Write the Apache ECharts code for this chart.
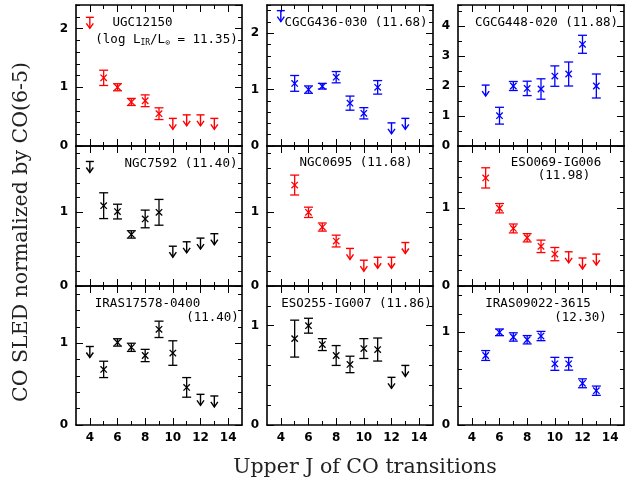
<!DOCTYPE html>
<html><head><meta charset="utf-8">
<script src="https://cdn.jsdelivr.net/npm/echarts@6/dist/echarts.min.js"></script>
<style>html,body{margin:0;padding:0;background:#fff}#c{width:630px;height:484px}</style>
</head><body><div id="c"></div><script>
// Upper J of CO transitions
const J = [4, 5, 6, 7, 8, 9, 10, 11, 12, 13];
const xMajorTicks = [4, 6, 8, 10, 12, 14];
const xMinorTicks = [5, 7, 9, 11, 13];

// Panel titles
const panelNames = [
  ['UGC12150', '(log L{s|IR}/L{s|⊙} = 11.35)'],
  ['CGCG436-030 (11.68)'],
  ['CGCG448-020 (11.88)'],
  ['NGC7592 (11.40)'],
  ['NGC0695 (11.68)'],
  ['ESO069-IG006', '(11.98)'],
  ['IRAS17578-0400', '(11.40)'],
  ['ESO255-IG007 (11.86)'],
  ['IRAS09022-3615', '(12.30)']
];

// values (detections), errors, upper limits — aligned with J
const ugc12150Val = [null, 1.16, 1.00, 0.75, 0.77, 0.55, null, null, null, null];
const ugc12150Err = [null, 0.13, 0.06, 0.06, 0.10, 0.10, null, null, null, null];
const ugc12150Lim = [2.19, null, null, null, null, null, 0.47, 0.53, 0.53, 0.47];

const cgcg436Val = [null, 1.11, 1.00, 1.06, 1.22, 0.76, 0.58, 1.04, null, null];
const cgcg436Err = [null, 0.14, 0.065, 0.05, 0.10, 0.125, 0.10, 0.12, null, null];
const cgcg436Lim = [2.40, null, null, null, null, null, null, null, 0.41, 0.49];

const cgcg448Val = [null, null, 1.01, 2.00, 1.92, 1.90, 2.33, 2.40, 3.39, 2.00];
const cgcg448Err = [null, null, 0.28, 0.15, 0.24, 0.34, 0.34, 0.40, 0.30, 0.40];
const cgcg448Lim = [null, 2.03, null, null, null, null, null, null, null, null];

const ngc7592Val = [null, 1.09, 1.01, 0.70, 0.91, 1.00, null, null, null, null];
const ngc7592Err = [null, 0.175, 0.10, 0.05, 0.12, 0.175, null, null, null, null];
const ngc7592Lim = [1.69, null, null, null, null, null, 0.54, 0.60, 0.65, 0.71];

const ngc0695Val = [null, 1.37, 1.00, 0.80, 0.61, null, null, null, null, null];
const ngc0695Err = [null, 0.135, 0.07, 0.055, 0.08, null, null, null, null, null];
const ngc0695Lim = [null, null, null, null, null, 0.51, 0.35, 0.39, 0.39, 0.59];

const eso069Val = [null, 1.39, 1.00, 0.74, 0.62, 0.51, 0.41, null, null, null];
const eso069Err = [null, 0.13, 0.06, 0.057, 0.053, 0.08, 0.085, null, null, null];
const eso069Lim = [null, null, null, null, null, null, null, 0.44, 0.36, 0.41];

const iras17578Val = [null, 0.68, 1.01, 0.95, 0.85, 1.17, 0.88, 0.46, null, null];
const iras17578Err = [null, 0.10, 0.045, 0.05, 0.075, 0.10, 0.15, 0.12, null, null];
const iras17578Lim = [0.96, null, null, null, null, null, null, null, 0.375, 0.355];

const eso255Val = [null, 0.87, 1.00, 0.81, 0.70, 0.61, 0.77, 0.76, null, null];
const eso255Err = [null, 0.186, 0.075, 0.06, 0.10, 0.083, 0.10, 0.116, null, null];
const eso255Lim = [null, null, null, null, null, null, null, null, 0.48, 0.60];

const iras09022Val = [null, 0.75, 1.00, 0.95, 0.92, 0.96, 0.66, 0.66, 0.45, 0.37];
const iras09022Err = [null, 0.053, 0.036, 0.045, 0.045, 0.05, 0.07, 0.068, 0.048, 0.05];
const iras09022Lim = [null, null, null, null, null, null, null, null, null, null];

// y-axis extents
const yMaxes = [2.4, 2.5, 4.7, 1.9, 1.9, 1.8, 1.7, 1.4, 1.5];
const yMinorSteps = [0.2, 0.2, 0.5, 0.2, 0.2, 0.2, 0.2, 0.2, 0.2];

const RED = '#ff0000', BLUE = '#0000ff', BLACK = '#000000';
const panels = [
  {val: ugc12150Val, err: ugc12150Err, lim: ugc12150Lim, color: RED},
  {val: cgcg436Val, err: cgcg436Err, lim: cgcg436Lim, color: BLUE},
  {val: cgcg448Val, err: cgcg448Err, lim: cgcg448Lim, color: BLUE},
  {val: ngc7592Val, err: ngc7592Err, lim: ngc7592Lim, color: BLACK},
  {val: ngc0695Val, err: ngc0695Err, lim: ngc0695Lim, color: RED},
  {val: eso069Val, err: eso069Err, lim: eso069Lim, color: RED},
  {val: iras17578Val, err: iras17578Err, lim: iras17578Lim, color: BLACK},
  {val: eso255Val, err: eso255Err, lim: eso255Lim, color: BLACK},
  {val: iras09022Val, err: iras09022Err, lim: iras09022Lim, color: BLUE}
];

// layout
const colLeft = [76, 267, 458], colW = 166;
const rowTop = [5, 146, 286], rowH = [141, 140, 139];
// label anchor (center x, center y) per line
const labelPos = [
  [[142.5, 22.7], [166.5, 40]],
  [[356, 22.7]],
  [[546.5, 22.7]],
  [[181, 163.3]],
  [[356, 162.7]],
  [[556, 162.7], [564, 176]],
  [[147.5, 304], [212.5, 317.3]],
  [[356.5, 304]],
  [[538, 303.3], [580.5, 317.3]]
];

function detRender(color) {
  return function (params, api) {
    const x = api.value(0), v = api.value(1), e = api.value(2);
    const c = api.coord([x, v]);
    const t = api.coord([x, v + e]);
    const b = api.coord([x, v - e]);
    const cw = 4.5, m = 3.2;
    const style = {stroke: color, lineWidth: 1.3, fill: null};
    return {type: 'group', children: [
      {type: 'line', shape: {x1: c[0], y1: t[1], x2: c[0], y2: b[1]}, style},
      {type: 'line', shape: {x1: c[0] - cw, y1: t[1], x2: c[0] + cw, y2: t[1]}, style},
      {type: 'line', shape: {x1: c[0] - cw, y1: b[1], x2: c[0] + cw, y2: b[1]}, style},
      {type: 'line', shape: {x1: c[0] - m, y1: c[1] - m, x2: c[0] + m, y2: c[1] + m}, style},
      {type: 'line', shape: {x1: c[0] - m, y1: c[1] + m, x2: c[0] + m, y2: c[1] - m}, style}
    ]};
  };
}
function limRender(color) {
  return function (params, api) {
    const c = api.coord([api.value(0), api.value(1)]);
    const hw = 4, L = 11, ah = 5, aw = 3.5;
    const style = {stroke: color, lineWidth: 1.4, fill: null};
    return {type: 'group', children: [
      {type: 'line', shape: {x1: c[0] - hw, y1: c[1], x2: c[0] + hw, y2: c[1]}, style},
      {type: 'line', shape: {x1: c[0], y1: c[1], x2: c[0], y2: c[1] + L}, style},
      {type: 'polyline', shape: {points: [[c[0] - aw, c[1] + L - ah], [c[0], c[1] + L], [c[0] + aw, c[1] + L - ah]]}, style}
    ]};
  };
}

const grid = [], xAxis = [], yAxis = [], series = [], graphic = [];
const axLine = {color: '#000', width: 1.6};
const tickStyle = {color: '#000', width: 1};
const tickFont = {color: '#000', fontSize: 12, fontWeight: 'bold', fontFamily: 'DejaVu Sans'};

panels.forEach((p, i) => {
  const r = Math.floor(i / 3), c = i % 3;
  grid.push({left: colLeft[c], top: rowTop[r], width: colW, height: rowH[r]});
  const mkX = (pos, major) => ({
    type: 'value', gridIndex: i, position: pos, min: 3, max: 15,
    axisLine: {show: major, onZero: false, lineStyle: axLine},
    axisTick: {show: true, inside: true, length: major ? 7 : 4,
      customValues: major ? xMajorTicks : xMinorTicks, lineStyle: tickStyle},
    axisLabel: (major && pos === 'bottom' && r === 2)
      ? Object.assign({show: true, customValues: xMajorTicks, margin: 7}, tickFont)
      : {show: false},
    splitLine: {show: false}
  });
  xAxis.push(mkX('bottom', true), mkX('bottom', false), mkX('top', true), mkX('top', false));
  const mkY = (pos, major) => ({
    type: 'value', gridIndex: i, position: pos, min: 0, max: yMaxes[i],
    interval: major ? 1 : yMinorSteps[i],
    axisLine: {show: major, onZero: false, lineStyle: axLine},
    axisTick: {show: true, inside: true, length: major ? 7 : 4, lineStyle: tickStyle},
    axisLabel: (major && pos === 'left')
      ? Object.assign({show: true, margin: 8, showMaxLabel: false,
          formatter: v => (Math.abs(v - Math.round(v)) < 1e-6 ? String(Math.round(v)) : '')}, tickFont)
      : {show: false},
    splitLine: {show: false}
  });
  yAxis.push(mkY('left', true), mkY('left', false), mkY('right', true), mkY('right', false));

  const det = J.map((j, k) => p.val[k] == null ? null : [j, p.val[k], p.err[k]]).filter(Boolean);
  const lim = J.map((j, k) => p.lim[k] == null ? null : [j, p.lim[k]]).filter(Boolean);
  series.push({type: 'custom', xAxisIndex: i * 4, yAxisIndex: i * 4, data: det,
    renderItem: detRender(p.color), clip: false, silent: true, z: 5});
  series.push({type: 'custom', xAxisIndex: i * 4, yAxisIndex: i * 4, data: lim,
    renderItem: limRender(p.color), clip: false, silent: true, z: 5});

  panelNames[i].forEach((txt, li) => {
    const pos = labelPos[i][li];
    graphic.push({type: 'text', x: pos[0], y: pos[1], z: 10, style: {
      text: txt, fill: '#000', fontSize: 12.5, fontFamily: 'DejaVu Sans Mono',
      align: 'center', verticalAlign: 'middle', textAlign: 'center', textVerticalAlign: 'middle',
      rich: {s: {fontSize: 8, fontFamily: 'DejaVu Sans Mono', fill: '#000', verticalAlign: 'bottom', padding: [6, 0, 0, 0]}}
    }});
  });
});

graphic.push({type: 'text', x: 365, y: 468, style: {
  text: 'Upper J of CO transitions', fill: '#222', fontSize: 20.5, fontFamily: 'DejaVu Serif',
  align: 'center', verticalAlign: 'middle', textAlign: 'center', textVerticalAlign: 'middle'}});
graphic.push({type: 'text', x: 22, y: 232, rotation: Math.PI / 2, style: {
  text: 'CO SLED normalized by CO(6-5)', fill: '#222', fontSize: 20.5, fontFamily: 'DejaVu Serif',
  align: 'center', verticalAlign: 'middle', textAlign: 'center', textVerticalAlign: 'middle'}});

const chart = echarts.init(document.getElementById('c'), null, {renderer: 'canvas'});
chart.setOption({animation: false, backgroundColor: '#fff', grid, xAxis, yAxis, series, graphic});
</script></body></html>
